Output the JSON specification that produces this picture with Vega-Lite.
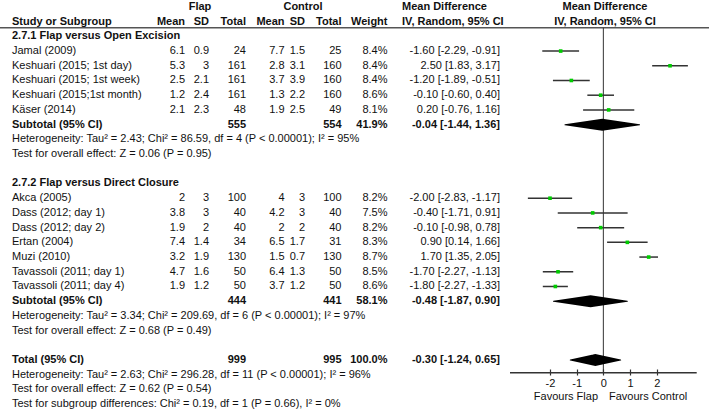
{
  "$schema": "https://vega.github.io/schema/vega-lite/v6.json",
  "width": 709,
  "height": 412,
  "padding": 0,
  "autosize": {"type": "none"},
  "config": {
    "view": {"stroke": null},
    "font": "Liberation Sans",
    "text": {"font": "Liberation Sans", "fontSize": 11, "color": "#111", "baseline": "middle"}
  },
  "datasets": {
    "table": [
      {"row": 1, "kind": "head", "label": "Study or Subgroup", "fm": "Mean", "fsd": "SD", "ft": "Total", "cm": "Mean", "csd": "SD", "ct": "Total"},
      {"row": 2, "kind": "group", "label": "2.7.1 Flap versus Open Excision"},
      {"row": 3, "kind": "study", "label": "Jamal (2009)", "fm": 6.1, "fsd": 0.9, "ft": 24, "cm": 7.7, "csd": 1.5, "ct": 25, "w": 0.084, "ci": "-1.60 [-2.29, -0.91]", "md": -1.6, "lo": -2.29, "hi": -0.91},
      {"row": 4, "kind": "study", "label": "Keshuari (2015; 1st day)", "fm": 5.3, "fsd": 3, "ft": 161, "cm": 2.8, "csd": 3.1, "ct": 160, "w": 0.084, "ci": "2.50 [1.83, 3.17]", "md": 2.5, "lo": 1.83, "hi": 3.17},
      {"row": 5, "kind": "study", "label": "Keshuari (2015; 1st week)", "fm": 2.5, "fsd": 2.1, "ft": 161, "cm": 3.7, "csd": 3.9, "ct": 160, "w": 0.084, "ci": "-1.20 [-1.89, -0.51]", "md": -1.2, "lo": -1.89, "hi": -0.51},
      {"row": 6, "kind": "study", "label": "Keshuari (2015;1st month)", "fm": 1.2, "fsd": 2.4, "ft": 161, "cm": 1.3, "csd": 2.2, "ct": 160, "w": 0.086, "ci": "-0.10 [-0.60, 0.40]", "md": -0.1, "lo": -0.6, "hi": 0.4},
      {"row": 7, "kind": "study", "label": "Käser (2014)", "fm": 2.1, "fsd": 2.3, "ft": 48, "cm": 1.9, "csd": 2.5, "ct": 49, "w": 0.081, "ci": "0.20 [-0.76, 1.16]", "md": 0.2, "lo": -0.76, "hi": 1.16},
      {"row": 8, "kind": "sub", "label": "Subtotal (95% CI)", "ft": 555, "ct": 554, "w": 0.419, "ci": "-0.04 [-1.44, 1.36]", "md": -0.04, "lo": -1.44, "hi": 1.36},
      {"row": 9, "kind": "note", "label": "Heterogeneity: Tau² = 2.43; Chi² = 86.59, df = 4 (P < 0.00001); I² = 95%"},
      {"row": 10, "kind": "note", "label": "Test for overall effect: Z = 0.06 (P = 0.95)"},
      {"row": 12, "kind": "group", "label": "2.7.2 Flap versus Direct Closure"},
      {"row": 13, "kind": "study", "label": "Akca (2005)", "fm": 2, "fsd": 3, "ft": 100, "cm": 4, "csd": 3, "ct": 100, "w": 0.082, "ci": "-2.00 [-2.83, -1.17]", "md": -2, "lo": -2.83, "hi": -1.17},
      {"row": 14, "kind": "study", "label": "Dass (2012; day 1)", "fm": 3.8, "fsd": 3, "ft": 40, "cm": 4.2, "csd": 3, "ct": 40, "w": 0.075, "ci": "-0.40 [-1.71, 0.91]", "md": -0.4, "lo": -1.71, "hi": 0.91},
      {"row": 15, "kind": "study", "label": "Dass (2012; day 2)", "fm": 1.9, "fsd": 2, "ft": 40, "cm": 2, "csd": 2, "ct": 40, "w": 0.082, "ci": "-0.10 [-0.98, 0.78]", "md": -0.1, "lo": -0.98, "hi": 0.78},
      {"row": 16, "kind": "study", "label": "Ertan (2004)", "fm": 7.4, "fsd": 1.4, "ft": 34, "cm": 6.5, "csd": 1.7, "ct": 31, "w": 0.083, "ci": "0.90 [0.14, 1.66]", "md": 0.9, "lo": 0.14, "hi": 1.66},
      {"row": 17, "kind": "study", "label": "Muzi (2010)", "fm": 3.2, "fsd": 1.9, "ft": 130, "cm": 1.5, "csd": 0.7, "ct": 130, "w": 0.087, "ci": "1.70 [1.35, 2.05]", "md": 1.7, "lo": 1.35, "hi": 2.05},
      {"row": 18, "kind": "study", "label": "Tavassoli (2011; day 1)", "fm": 4.7, "fsd": 1.6, "ft": 50, "cm": 6.4, "csd": 1.3, "ct": 50, "w": 0.085, "ci": "-1.70 [-2.27, -1.13]", "md": -1.7, "lo": -2.27, "hi": -1.13},
      {"row": 19, "kind": "study", "label": "Tavassoli (2011; day 4)", "fm": 1.9, "fsd": 1.2, "ft": 50, "cm": 3.7, "csd": 1.2, "ct": 50, "w": 0.086, "ci": "-1.80 [-2.27, -1.33]", "md": -1.8, "lo": -2.27, "hi": -1.33},
      {"row": 20, "kind": "sub", "label": "Subtotal (95% CI)", "ft": 444, "ct": 441, "w": 0.581, "ci": "-0.48 [-1.87, 0.90]", "md": -0.48, "lo": -1.87, "hi": 0.9},
      {"row": 21, "kind": "note", "label": "Heterogeneity: Tau² = 3.34; Chi² = 209.69, df = 6 (P < 0.00001); I² = 97%"},
      {"row": 22, "kind": "note", "label": "Test for overall effect: Z = 0.68 (P = 0.49)"},
      {"row": 24, "kind": "sub", "label": "Total (95% CI)", "ft": 999, "ct": 995, "w": 1.0, "ci": "-0.30 [-1.24, 0.65]", "md": -0.3, "lo": -1.24, "hi": 0.65},
      {"row": 25, "kind": "note", "label": "Heterogeneity: Tau² = 2.63; Chi² = 296.28, df = 11 (P < 0.00001); I² = 96%"},
      {"row": 26, "kind": "note", "label": "Test for overall effect: Z = 0.62 (P = 0.54)"},
      {"row": 27, "kind": "note", "label": "Test for subgroup differences: Chi² = 0.19, df = 1 (P = 0.66), I² = 0%"}
    ],
    "heads": [
      {"row": 0, "col": "flap", "text": "Flap"},
      {"row": 0, "col": "control", "text": "Control"},
      {"row": 1, "col": "w", "text": "Weight"},
      {"row": 0, "col": "ci", "text": "Mean Difference"},
      {"row": 1, "col": "ci", "text": "IV, Random, 95% CI"},
      {"row": 0, "col": "forest", "text": "Mean Difference"},
      {"row": 1, "col": "forest", "text": "IV, Random, 95% CI"},
      {"col": "fav1", "text": "Favours Flap"},
      {"col": "fav2", "text": "Favours Control"}
    ]
  },
  "layer": [
    {
      "data": {"name": "heads"},
      "transform": [{"filter": "datum.col === 'flap'"}],
      "mark": {"type": "rule", "color": "#555", "strokeWidth": 1.5},
      "encoding": {
        "y": {"datum": 1.41, "type": "quantitative", "scale": {"domain": [-0.47, 27.53], "reverse": true, "nice": false, "zero": false}, "axis": null}
      }
    },
    {
      "data": {"name": "heads"},
      "transform": [{"filter": "datum.col === 'flap'"}],
      "mark": {"type": "rule", "color": "#333", "strokeWidth": 1},
      "encoding": {
        "x": {"datum": 0, "type": "quantitative", "scale": {"domain": [-3.5, 3.5], "range": [510, 696.7], "nice": false, "zero": false},
          "axis": {"orient": "bottom", "offset": -43, "values": [-2, -1, 0, 1, 2], "labelExpr": "'' + datum.value", "domain": false, "tickColor": "#333", "tickWidth": 1.2, "tickSize": 6, "labelPadding": 2, "labelFont": "Liberation Sans", "labelFontSize": 11, "labelColor": "#111", "grid": false, "title": null}},
        "y": {"datum": 1.41, "type": "quantitative"},
        "y2": {"datum": 24.86}
      }
    },
    {
      "data": {"name": "heads"},
      "transform": [{"filter": "datum.col === 'flap'"}],
      "mark": {"type": "rule", "color": "#333", "strokeWidth": 1.5},
      "encoding": {
        "x": {"datum": -3.5, "type": "quantitative"},
        "x2": {"datum": 3.5},
        "y": {"datum": 24.86, "type": "quantitative"}
      }
    },
    {
      "data": {"name": "table"},
      "transform": [{"filter": "datum.kind === 'study'"}],
      "mark": {"type": "rule", "color": "#333", "strokeWidth": 1.5},
      "encoding": {
        "x": {"field": "lo", "type": "quantitative"},
        "x2": {"field": "hi"},
        "y": {"field": "row", "type": "quantitative"}
      }
    },
    {
      "data": {"name": "table"},
      "transform": [{"filter": "datum.kind === 'study'"}],
      "mark": {"type": "square", "filled": true, "color": "#00cc00", "size": 13, "opacity": 1},
      "encoding": {
        "x": {"field": "md", "type": "quantitative"},
        "y": {"field": "row", "type": "quantitative"}
      }
    },
    {
      "data": {"name": "table"},
      "transform": [
        {"filter": "datum.kind === 'sub'"},
        {"fold": ["lo", "md", "hi"], "as": ["key", "value"]}
      ],
      "mark": {"type": "trail", "color": "#000"},
      "encoding": {
        "x": {"field": "value", "type": "quantitative"},
        "y": {"field": "row", "type": "quantitative"},
        "detail": {"field": "row", "type": "nominal"},
        "order": {"field": "value", "type": "quantitative"},
        "size": {"condition": {"test": "datum.key === 'md'", "value": 12}, "value": 0}
      }
    },
    {
      "data": {"name": "table"},
      "mark": {"type": "text", "align": "left", "fontWeight": {"expr": "datum.kind === 'study' || datum.kind === 'note' ? 'normal' : 'bold'"}},
      "encoding": {"x": {"value": 12}, "y": {"field": "row", "type": "quantitative"}, "text": {"field": "label", "type": "nominal"}}
    },
    {
      "data": {"name": "table"},
      "transform": [{"filter": "isValid(datum.fm)"}],
      "mark": {"type": "text", "align": "right", "fontWeight": {"expr": "datum.kind === 'study' ? 'normal' : 'bold'"}},
      "encoding": {"x": {"value": 185}, "y": {"field": "row", "type": "quantitative"}, "text": {"field": "fm", "type": "nominal"}}
    },
    {
      "data": {"name": "table"},
      "transform": [{"filter": "isValid(datum.fsd)"}],
      "mark": {"type": "text", "align": "right", "fontWeight": {"expr": "datum.kind === 'study' ? 'normal' : 'bold'"}},
      "encoding": {"x": {"value": 209}, "y": {"field": "row", "type": "quantitative"}, "text": {"field": "fsd", "type": "nominal"}}
    },
    {
      "data": {"name": "table"},
      "transform": [{"filter": "isValid(datum.ft)"}],
      "mark": {"type": "text", "align": "right", "fontWeight": {"expr": "datum.kind === 'study' ? 'normal' : 'bold'"}},
      "encoding": {"x": {"value": 246}, "y": {"field": "row", "type": "quantitative"}, "text": {"field": "ft", "type": "nominal"}}
    },
    {
      "data": {"name": "table"},
      "transform": [{"filter": "isValid(datum.cm)"}],
      "mark": {"type": "text", "align": "right", "fontWeight": {"expr": "datum.kind === 'study' ? 'normal' : 'bold'"}},
      "encoding": {"x": {"value": 284.5}, "y": {"field": "row", "type": "quantitative"}, "text": {"field": "cm", "type": "nominal"}}
    },
    {
      "data": {"name": "table"},
      "transform": [{"filter": "isValid(datum.csd)"}],
      "mark": {"type": "text", "align": "right", "fontWeight": {"expr": "datum.kind === 'study' ? 'normal' : 'bold'"}},
      "encoding": {"x": {"value": 305}, "y": {"field": "row", "type": "quantitative"}, "text": {"field": "csd", "type": "nominal"}}
    },
    {
      "data": {"name": "table"},
      "transform": [{"filter": "isValid(datum.ct)"}],
      "mark": {"type": "text", "align": "right", "fontWeight": {"expr": "datum.kind === 'study' ? 'normal' : 'bold'"}},
      "encoding": {"x": {"value": 341.5}, "y": {"field": "row", "type": "quantitative"}, "text": {"field": "ct", "type": "nominal"}}
    },
    {
      "data": {"name": "table"},
      "transform": [{"filter": "isValid(datum.w)"}],
      "mark": {"type": "text", "align": "right", "fontWeight": {"expr": "datum.kind === 'study' ? 'normal' : 'bold'"}},
      "encoding": {"x": {"value": 387.5}, "y": {"field": "row", "type": "quantitative"}, "text": {"field": "w", "type": "quantitative", "format": ".1%"}}
    },
    {
      "data": {"name": "table"},
      "transform": [{"filter": "isValid(datum.ci)"}],
      "mark": {"type": "text", "align": "right", "fontWeight": {"expr": "datum.kind === 'study' ? 'normal' : 'bold'"}},
      "encoding": {"x": {"value": 500}, "y": {"field": "row", "type": "quantitative"}, "text": {"field": "ci", "type": "nominal"}}
    },
    {
      "data": {"name": "heads"},
      "transform": [{"filter": "datum.col === 'flap'"}],
      "mark": {"type": "text", "align": "center", "fontWeight": "bold"},
      "encoding": {"x": {"value": 200}, "y": {"field": "row", "type": "quantitative"}, "text": {"field": "text", "type": "nominal"}}
    },
    {
      "data": {"name": "heads"},
      "transform": [{"filter": "datum.col === 'control'"}],
      "mark": {"type": "text", "align": "center", "fontWeight": "bold"},
      "encoding": {"x": {"value": 303}, "y": {"field": "row", "type": "quantitative"}, "text": {"field": "text", "type": "nominal"}}
    },
    {
      "data": {"name": "heads"},
      "transform": [{"filter": "datum.col === 'w'"}],
      "mark": {"type": "text", "align": "right", "fontWeight": "bold"},
      "encoding": {"x": {"value": 387.5}, "y": {"field": "row", "type": "quantitative"}, "text": {"field": "text", "type": "nominal"}}
    },
    {
      "data": {"name": "heads"},
      "transform": [{"filter": "datum.col === 'ci'"}],
      "mark": {"type": "text", "align": "left", "fontWeight": "bold"},
      "encoding": {"x": {"value": 402}, "y": {"field": "row", "type": "quantitative"}, "text": {"field": "text", "type": "nominal"}}
    },
    {
      "data": {"name": "heads"},
      "transform": [{"filter": "datum.col === 'forest'"}],
      "mark": {"type": "text", "align": "center", "fontWeight": "bold"},
      "encoding": {"x": {"value": 605}, "y": {"field": "row", "type": "quantitative"}, "text": {"field": "text", "type": "nominal"}}
    },
    {
      "data": {"name": "heads"},
      "transform": [{"filter": "datum.col === 'fav1'"}],
      "mark": {"type": "text", "align": "right"},
      "encoding": {"x": {"datum": -0.2, "type": "quantitative"}, "y": {"datum": 26.49, "type": "quantitative"}, "text": {"field": "text", "type": "nominal"}}
    },
    {
      "data": {"name": "heads"},
      "transform": [{"filter": "datum.col === 'fav2'"}],
      "mark": {"type": "text", "align": "left"},
      "encoding": {"x": {"datum": 0.21, "type": "quantitative"}, "y": {"datum": 26.49, "type": "quantitative"}, "text": {"field": "text", "type": "nominal"}}
    }
  ]
}
